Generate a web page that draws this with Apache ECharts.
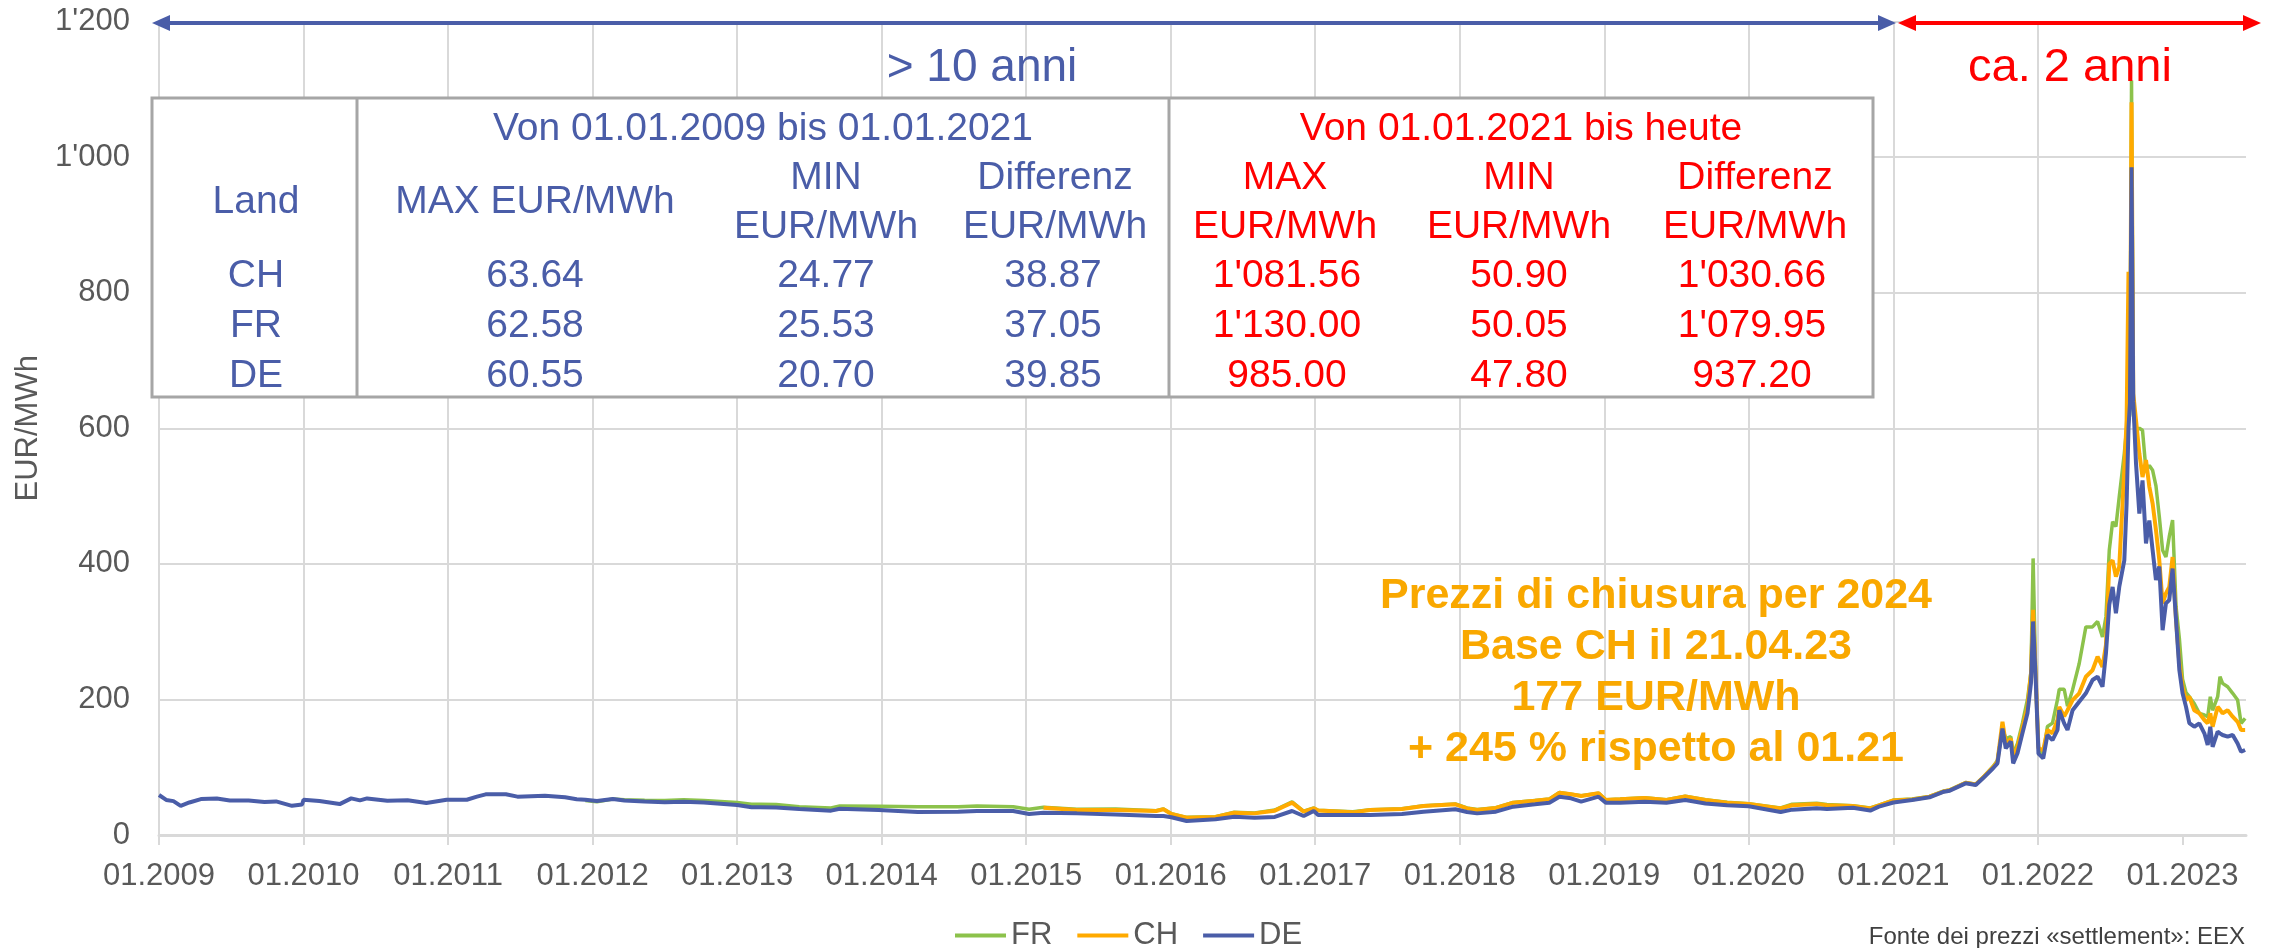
<!DOCTYPE html>
<html>
<head>
<meta charset="utf-8">
<title>Prezzi Cal base CH FR DE</title>
<script src="https://cdn.jsdelivr.net/npm/echarts@6/dist/echarts.min.js"></script>
<style>
  html, body { margin: 0; padding: 0; background: #fff; }
  #main { width: 2277px; height: 948px; }
</style>
</head>
<body>
<div id="main"></div>
<script>
// tempo in anni decimali
var t = [
  2009.00, 2009.05, 2009.10, 2009.15, 2009.21, 2009.29, 2009.40, 2009.49, 2009.62, 2009.73,
  2009.81, 2009.92, 2009.99, 2010.00, 2010.11, 2010.25, 2010.33, 2010.39, 2010.44, 2010.58,
  2010.72, 2010.85, 2010.99, 2011.13, 2011.20, 2011.26, 2011.40, 2011.48, 2011.67, 2011.81,
  2011.89,
  2011.95, 2012.03, 2012.14, 2012.22, 2012.36, 2012.50, 2012.63, 2012.77, 2013.00, 2013.10,
  2013.16, 2013.27, 2013.43, 2013.65, 2013.71, 2013.98, 2014.25, 2014.53, 2014.66, 2014.91,
  2015.02,
  2015.12, 2015.35, 2015.62, 2015.90, 2015.95, 2016.005, 2016.11, 2016.31, 2016.44, 2016.58,
  2016.72, 2016.84, 2016.92, 2016.99, 2017.02, 2017.26, 2017.38, 2017.60, 2017.75, 2017.97,
  2018.05, 2018.12, 2018.25, 2018.37, 2018.52, 2018.62, 2018.69, 2018.77, 2018.84, 2018.96,
  2019.01, 2019.11, 2019.28, 2019.43, 2019.56, 2019.70, 2019.85, 2020.00, 2020.22, 2020.30,
  2020.47, 2020.54, 2020.72, 2020.84,
  2020.90, 2021.00, 2021.13, 2021.25, 2021.35, 2021.39, 2021.50, 2021.57, 2021.62, 2021.69,
  2021.72, 2021.755, 2021.778, 2021.813, 2021.829, 2021.859, 2021.893, 2021.928, 2021.952, 2021.967,
  2021.986, 2022.004, 2022.037, 2022.066, 2022.101, 2022.136, 2022.148, 2022.182, 2022.205, 2022.24,
  2022.286, 2022.332, 2022.378, 2022.413, 2022.447, 2022.471, 2022.494, 2022.517, 2022.54, 2022.563,
  2022.598, 2022.614, 2022.627, 2022.637, 2022.648, 2022.66, 2022.679, 2022.702, 2022.724, 2022.748,
  2022.771, 2022.794, 2022.817, 2022.84, 2022.863, 2022.886, 2022.909, 2022.932, 2022.956, 2022.979,
  2023.001, 2023.025, 2023.048, 2023.082, 2023.117, 2023.152, 2023.175, 2023.193, 2023.209, 2023.244,
  2023.26, 2023.278, 2023.313, 2023.348, 2023.382, 2023.406, 2023.434
];

// FR, EUR/MWh (nascosto sotto DE fino a fine 2011)
var fr = [
  null, null, null, null, null, null, null, null, null, null,
  null, null, null, null, null, null, null, null, null, null,
  null, null, null, null, null, null, null, null, null, null,
  null,
  51, 49, 53, 52, 51.3, 50.8, 52, 50.8, 48, 45.3,
  45.3, 45, 41.8, 39.8, 42.8, 42.3, 41.8, 41.8, 42.8, 41.8,
  37.9,
  41, 37.9, 38.3, 35.9, 38.5, 31.5, 26, 27, 33.5, 32.4,
  36.9, 49, 35, 39.8, 36.5, 34.4, 37.4, 38.8, 43.3, 45.8,
  39.8, 37.5, 40.3, 48, 51, 53, 62.6, 60.3, 57.8, 61.8,
  52, 53, 55, 52, 57.3, 52, 48.2, 46.2, 40, 45.5,
  47, 45, 43.3, 40,
  44, 51.5, 53, 57, 65, 66.5, 77.5, 75, 85, 101,
  110, 158, 142, 145, 120, 135, 165, 200, 240, 408,
  224, 130, 118, 160, 165, 200, 215, 215, 190, 214,
  253, 307, 307, 315, 292, 322, 420, 462, 455, 499,
  563, 600, 617, 640, 1113, 620, 597, 600, 597, 538,
  545, 538, 515, 470, 420, 410, 440, 464.6, 336.7, 290,
  230, 210, 204, 194, 179.5, 177, 174.5, 204, 184, 204,
  233.5, 223.7, 218.7, 209, 199, 164.7, 172
];

// CH, EUR/MWh (visibile da inizio 2015)
var ch = [
  null, null, null, null, null, null, null, null, null, null,
  null, null, null, null, null, null, null, null, null, null,
  null, null, null, null, null, null, null, null, null, null,
  null,
  null, null, null, null, null, null, null, null, null, null,
  null, null, null, null, null, null, null, null, null, null,
  null,
  40.3, 36.9, 36.9, 35.4, 37.9, 31, 25.6, 26.6, 32.9, 31.9,
  35.9, 47.7, 34.4, 39.3, 36, 33.4, 36.9, 38.3, 42.8, 45.3,
  39.3, 37, 39.8, 47.7, 50.6, 52.6, 62.4, 60, 57.5, 61.5,
  51.6, 52.6, 54.6, 51.6, 57, 51.6, 47.7, 45.7, 39.3, 43.8,
  45.7, 43.8, 42.8, 39.3,
  43.5, 51, 52.5, 56.5, 64.5, 66, 77, 74.5, 84.5, 100,
  108, 167, 135, 142, 115, 130, 158, 188, 238, 332,
  229, 128, 125, 155, 150, 170, 189, 175, 184, 199,
  209, 233.5, 243, 263, 248, 280, 400, 405, 381, 396,
  538, 612, 831, 632, 1081, 651, 612, 563, 528, 553,
  514, 489, 450, 405.6, 341.7, 356.5, 366, 410, 317, 253,
  218.7, 199, 204, 184, 179.5, 169.6, 164.7, 179.5, 159.7, 189,
  185, 179.5, 184, 174.5, 167, 155, 155
];

// DE, EUR/MWh
var de = [
  59, 51.7, 50, 43, 48, 53, 53.7, 51, 51, 48.8,
  49.5, 43, 45, 52, 50.2, 45.6, 54, 51, 54, 50.5,
  51.3, 47.3, 52, 52, 56.6, 60, 60, 56.6, 58, 55.6,
  52.8,
  52, 50, 53, 51, 49.3, 48.3, 49, 48, 44.3, 41,
  40.9, 40.5, 38.3, 35.9, 38.8, 36.9, 33.9, 34.4, 35.4, 35.4,
  31,
  32.9, 31.9, 30.4, 28, 28, 26.1, 20.6, 23.1, 27, 25.6,
  26.6, 35.4, 28, 35.4, 29.5, 29.5, 29.5, 31, 34.4, 37.9,
  33.9, 31.9, 34.4, 41.8, 45.3, 47.7, 56.5, 54.1, 49.2, 56.5,
  47.7, 47.7, 49.2, 47.7, 51.6, 46.5, 43.8, 42.3, 34, 37.4,
  39.3, 38.5, 40.3, 36,
  41.8, 48, 51.6, 55.6, 63.9, 65.4, 76.2, 73.7, 83.6, 98.4,
  105.7, 157, 127.9, 138, 105.7, 120.5, 150, 179.5, 223.7, 315,
  224, 120, 113, 147.5, 140, 155, 184, 164.7, 155, 184,
  196.6, 209, 228.6, 233.5, 218.7, 268, 340, 366, 327, 366,
  405, 489, 600, 637, 985, 640, 548, 474, 523, 430,
  464, 420, 376, 396, 302, 341.7, 346.6, 393, 317, 243,
  209, 189, 165, 159.7, 164.7, 150, 132.7, 159.7, 130, 152.4,
  150, 147.5, 145, 147.5, 135, 122.9, 125.4
];

var yearTicks = [2009, 2010, 2011, 2012, 2013, 2014, 2015, 2016, 2017, 2018, 2019, 2020, 2021, 2022, 2023];

// tabella
var land = ['CH', 'FR', 'DE'];
var oldMax = ['63.64', '62.58', '60.55'];
var oldMin = ['24.77', '25.53', '20.70'];
var oldDiff = ['38.87', '37.05', '39.85'];
var newMax = ["1'081.56", "1'130.00", '985.00'];
var newMin = ['50.90', '50.05', '47.80'];
var newDiff = ["1'030.66", "1'079.95", '937.20'];

var note = ['Prezzi di chiusura per 2024', 'Base CH il 21.04.23', '177 EUR/MWh', '+ 245 % rispetto al 01.21'];

var BLUE = '#4A5DA8', RED = '#FF0000', ORANGE = '#FFAA00', GREEN = '#8CC24B';
var FONT = '"Liberation Sans", Arial, sans-serif';

function pairs(vals) {
  return t.map(function (x, i) { return [x, vals[i]]; });
}

function fmtY(v) {
  if (v >= 1000) return Math.floor(v / 1000) + "'" + String(v % 1000).padStart(3, '0');
  return String(v);
}

var g = [];
function txt(x, y, s, color, size, bold, align) {
  g.push({
    type: 'text', z: 110, x: x, y: y,
    style: {
      text: s, fill: color,
      font: (bold ? 'bold ' : '') + size + 'px ' + FONT,
      textAlign: align || 'center', textVerticalAlign: 'middle'
    }
  });
}

// frecce in alto
g.push({ type: 'line', z: 105, shape: { x1: 165, y1: 23, x2: 1884, y2: 23 }, style: { stroke: BLUE, lineWidth: 4 } });
g.push({ type: 'polygon', z: 105, shape: { points: [[152, 23], [170, 15], [170, 31]] }, style: { fill: BLUE } });
g.push({ type: 'polygon', z: 105, shape: { points: [[1896, 23], [1878, 15], [1878, 31]] }, style: { fill: BLUE } });
g.push({ type: 'line', z: 105, shape: { x1: 1910, y1: 23, x2: 2248, y2: 23 }, style: { stroke: RED, lineWidth: 4 } });
g.push({ type: 'polygon', z: 105, shape: { points: [[1898, 23], [1916, 15], [1916, 31]] }, style: { fill: RED } });
g.push({ type: 'polygon', z: 105, shape: { points: [[2261, 23], [2243, 15], [2243, 31]] }, style: { fill: RED } });
txt(982, 68, '> 10 anni', BLUE, 46);
txt(2070, 68, 'ca. 2 anni', RED, 47);

// tabella
g.push({ type: 'rect', z: 100, shape: { x: 152, y: 98, width: 1721, height: 299 }, style: { fill: '#fff', stroke: '#A6A6A6', lineWidth: 3 } });
g.push({ type: 'line', z: 101, shape: { x1: 357, y1: 98, x2: 357, y2: 397 }, style: { stroke: '#A6A6A6', lineWidth: 3 } });
g.push({ type: 'line', z: 101, shape: { x1: 1169, y1: 98, x2: 1169, y2: 397 }, style: { stroke: '#A6A6A6', lineWidth: 3 } });

var TS = 39;
var rowsY = [276, 326, 376];
txt(256, 202, 'Land', BLUE, TS);
txt(763, 129, 'Von 01.01.2009 bis 01.01.2021', BLUE, TS);
txt(535, 202, 'MAX EUR/MWh', BLUE, TS);
txt(826, 178, 'MIN', BLUE, TS);
txt(826, 227, 'EUR/MWh', BLUE, TS);
txt(1055, 178, 'Differenz', BLUE, TS);
txt(1055, 227, 'EUR/MWh', BLUE, TS);
txt(1521, 129, 'Von 01.01.2021 bis heute', RED, TS);
txt(1285, 178, 'MAX', RED, TS);
txt(1285, 227, 'EUR/MWh', RED, TS);
txt(1519, 178, 'MIN', RED, TS);
txt(1519, 227, 'EUR/MWh', RED, TS);
txt(1755, 178, 'Differenz', RED, TS);
txt(1755, 227, 'EUR/MWh', RED, TS);
for (var i = 0; i < 3; i++) {
  txt(256, rowsY[i], land[i], BLUE, TS);
  txt(535, rowsY[i], oldMax[i], BLUE, TS);
  txt(826, rowsY[i], oldMin[i], BLUE, TS);
  txt(1053, rowsY[i], oldDiff[i], BLUE, TS);
  txt(1287, rowsY[i], newMax[i], RED, TS);
  txt(1519, rowsY[i], newMin[i], RED, TS);
  txt(1752, rowsY[i], newDiff[i], RED, TS);
}

// nota prezzo chiusura
var noteY = [596, 647, 698, 749];
for (var k = 0; k < note.length; k++) {
  txt(1656, noteY[k], note[k], '#F9A800', 43, true);
}

// fonte
txt(2245, 937, 'Fonte dei prezzi «settlement»: EEX', '#404040', 24, false, 'right');

var myChart = echarts.init(document.getElementById('main'));

var option = {
  animation: false,
  backgroundColor: '#fff',
  textStyle: { fontFamily: FONT },
  grid: { left: 159, right: 31, top: 21.5, bottom: 113 },
  legend: {
    data: ['FR', 'CH', 'DE'],
    left: 950, top: 915,
    icon: 'rect',
    itemWidth: 51, itemHeight: 4, itemGap: 25,
    textStyle: { fontSize: 31, color: '#595959' }
  },
  xAxis: {
    type: 'value', min: 2009, max: 2023.44, interval: 1,
    axisLine: { show: true, lineStyle: { color: '#D9D9D9', width: 3 } },
    axisTick: { show: true, length: 10, customValues: yearTicks, lineStyle: { color: '#D9D9D9', width: 2 } },
    axisLabel: {
      customValues: yearTicks, fontSize: 31, color: '#595959', margin: 26,
      formatter: function (v) { return '01.' + Math.round(v); }
    },
    splitLine: { show: true, showMaxLine: false, lineStyle: { color: '#D9D9D9', width: 2 } }
  },
  yAxis: {
    type: 'value', min: 0, max: 1200, interval: 200,
    name: 'EUR/MWh', nameLocation: 'middle', nameGap: 112,
    nameTextStyle: { fontSize: 31, color: '#595959' },
    axisLine: { show: false },
    axisTick: { show: false },
    axisLabel: { fontSize: 31, color: '#595959', margin: 29, formatter: fmtY },
    splitLine: { lineStyle: { color: '#D9D9D9', width: 2 } }
  },
  series: [
    { name: 'FR', type: 'line', data: pairs(fr), symbol: 'none', lineStyle: { color: GREEN, width: 3.5 }, itemStyle: { color: GREEN } },
    { name: 'CH', type: 'line', data: pairs(ch), symbol: 'none', lineStyle: { color: ORANGE, width: 4 }, itemStyle: { color: ORANGE } },
    { name: 'DE', type: 'line', data: pairs(de), symbol: 'none', lineStyle: { color: BLUE, width: 4 }, itemStyle: { color: BLUE } }
  ],
  graphic: g
};

myChart.setOption(option);
</script>
</body>
</html>
